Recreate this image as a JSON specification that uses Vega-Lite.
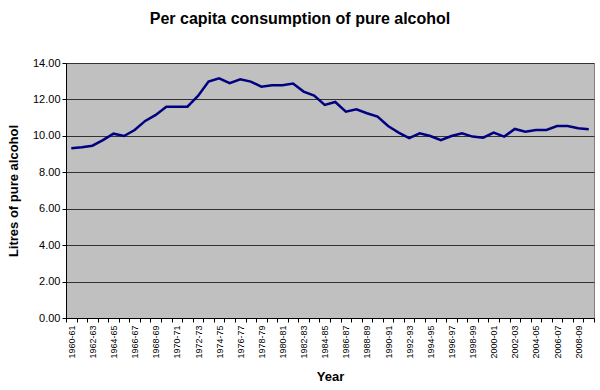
{
  "$schema": "https://vega.github.io/schema/vega-lite/v6.json",
  "width": 528,
  "height": 255,
  "autosize": {"type": "none"},
  "padding": {"left": 66, "top": 63, "right": 6, "bottom": 72},
  "background": "white",
  "title": {
    "text": "Per capita consumption of pure alcohol",
    "font": "Liberation Sans",
    "fontSize": 16,
    "fontWeight": "bold",
    "color": "black",
    "anchor": "middle",
    "dx": -30,
    "offset": 30
  },
  "config": {
    "view": {"fill": "#C0C0C0", "stroke": "#808080", "strokeWidth": 1},
    "font": "Liberation Sans"
  },
  "data": {
    "values": [
      {"Year": "1960-61", "Litres": 9.32},
      {"Year": "1961-62", "Litres": 9.37},
      {"Year": "1962-63", "Litres": 9.46},
      {"Year": "1963-64", "Litres": 9.77},
      {"Year": "1964-65", "Litres": 10.12},
      {"Year": "1965-66", "Litres": 9.99},
      {"Year": "1966-67", "Litres": 10.32},
      {"Year": "1967-68", "Litres": 10.82},
      {"Year": "1968-69", "Litres": 11.15},
      {"Year": "1969-70", "Litres": 11.6},
      {"Year": "1970-71", "Litres": 11.6},
      {"Year": "1971-72", "Litres": 11.6},
      {"Year": "1972-73", "Litres": 12.19},
      {"Year": "1973-74", "Litres": 12.98},
      {"Year": "1974-75", "Litres": 13.16},
      {"Year": "1975-76", "Litres": 12.89},
      {"Year": "1976-77", "Litres": 13.1},
      {"Year": "1977-78", "Litres": 12.98},
      {"Year": "1978-79", "Litres": 12.7},
      {"Year": "1979-80", "Litres": 12.78},
      {"Year": "1980-81", "Litres": 12.78},
      {"Year": "1981-82", "Litres": 12.87},
      {"Year": "1982-83", "Litres": 12.43},
      {"Year": "1983-84", "Litres": 12.21},
      {"Year": "1984-85", "Litres": 11.7},
      {"Year": "1985-86", "Litres": 11.86},
      {"Year": "1986-87", "Litres": 11.33},
      {"Year": "1987-88", "Litres": 11.46},
      {"Year": "1988-89", "Litres": 11.24},
      {"Year": "1989-90", "Litres": 11.06},
      {"Year": "1990-91", "Litres": 10.54},
      {"Year": "1991-92", "Litres": 10.18},
      {"Year": "1992-93", "Litres": 9.87},
      {"Year": "1993-94", "Litres": 10.14},
      {"Year": "1994-95", "Litres": 9.99},
      {"Year": "1995-96", "Litres": 9.77},
      {"Year": "1996-97", "Litres": 9.99},
      {"Year": "1997-98", "Litres": 10.14},
      {"Year": "1998-99", "Litres": 9.96},
      {"Year": "1999-00", "Litres": 9.9},
      {"Year": "2000-01", "Litres": 10.18},
      {"Year": "2001-02", "Litres": 9.96},
      {"Year": "2002-03", "Litres": 10.38},
      {"Year": "2003-04", "Litres": 10.23},
      {"Year": "2004-05", "Litres": 10.32},
      {"Year": "2005-06", "Litres": 10.32},
      {"Year": "2006-07", "Litres": 10.54},
      {"Year": "2007-08", "Litres": 10.54},
      {"Year": "2008-09", "Litres": 10.42},
      {"Year": "2009-10", "Litres": 10.36}
    ]
  },
  "mark": {"type": "line", "color": "#000080", "strokeWidth": 2.5},
  "encoding": {
    "x": {
      "field": "Year",
      "type": "ordinal",
      "sort": null,
      "scale": {"type": "band", "paddingInner": 0, "paddingOuter": 0},
      "axis": {
        "title": "Year",
        "titleFont": "Liberation Sans",
        "titleFontSize": 13,
        "titleFontWeight": "bold",
        "titleColor": "black",
        "titlePadding": 12,
        "labelAngle": -90,
        "labelFontSize": 9,
        "labelColor": "black",
        "labelFont": "Liberation Sans",
        "labelPadding": 3,
        "labelOverlap": false,
        "labelExpr": "toNumber(substring(datum.value, 0, 4)) % 2 == 0 ? datum.value : ''",
        "tickBand": "extent",
        "tickColor": "black",
        "tickSize": 4,
        "domainColor": "black",
        "grid": false
      }
    },
    "y": {
      "field": "Litres",
      "type": "quantitative",
      "scale": {"domain": [0, 14], "nice": false, "zero": true},
      "axis": {
        "title": "Litres of pure alcohol",
        "titleFont": "Liberation Sans",
        "titleFontSize": 13,
        "titleFontWeight": "bold",
        "titleColor": "black",
        "titlePadding": 12,
        "values": [0, 2, 4, 6, 8, 10, 12, 14],
        "format": ".2f",
        "labelFontSize": 11,
        "labelColor": "black",
        "labelFont": "Liberation Sans",
        "tickColor": "black",
        "tickSize": 4,
        "domainColor": "black",
        "grid": true,
        "gridColor": "#333333",
        "gridWidth": 1
      }
    }
  }
}
